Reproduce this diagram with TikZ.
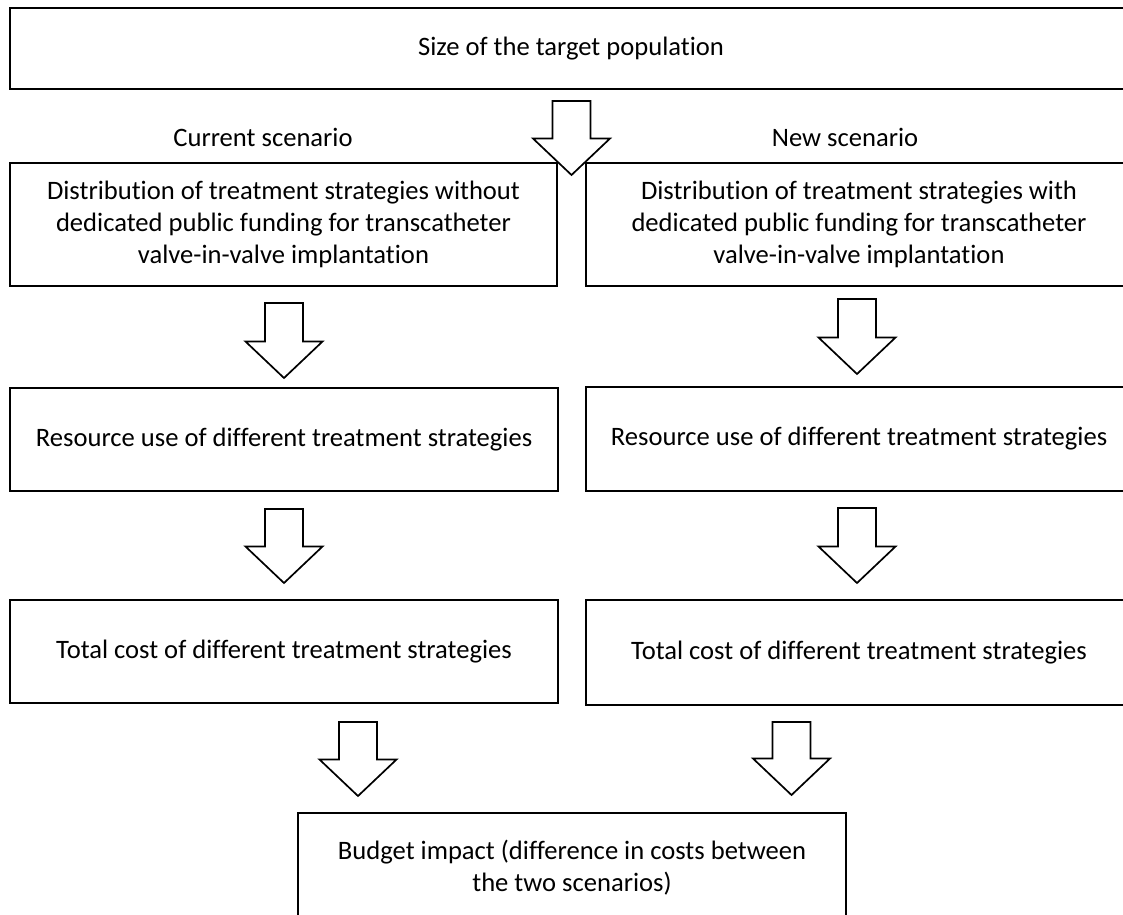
\documentclass[tikz,border=0pt]{standalone}
\usepackage{fontspec}
\setmainfont{Carlito}[Ligatures={NoCommon,NoContextual,NoRare},Contextuals={NoAlternate}]
\tikzset{
  box/.style={draw=black, line width=2pt, inner sep=0pt, align=center, fill=none,
              font=\fontsize{26.6}{32}\selectfont},
  lbl/.style={inner sep=0pt, font=\fontsize{26.6}{32}\selectfont},
  blockarrow/.style={draw=black, line width=1.7pt, line join=miter}
}
\newcommand\barrow[3]{%
  \draw[blockarrow] ({#1-19},#2) -- ({#1+19},#2) -- ({#1+19},{#3-36.5}) -- ({#1+38.5},{#3-36.5})
    -- (#1,#3) -- ({#1-38.5},{#3-36.5}) -- ({#1-19},{#3-36.5}) -- cycle;}
\begin{document}
\begin{tikzpicture}[x=1pt,y=-1pt]
\useasboundingbox (0,0) rectangle (1123,914);
\clip (0,0) rectangle (1123,914);
\node[box, minimum width=1122pt, minimum height=81pt] (top) at (571,48.5) {Size of the target population};
\node[lbl] (lhead) at (263,137) {Current scenario};
\node[lbl] (rhead) at (845,137) {New scenario};
\node[box, minimum width=547pt, minimum height=123pt] (ld) at (283.5,224.5)
  {\raisebox{-3pt}{\parbox{540pt}{\centering Distribution of treatment strategies without\\dedicated public funding for transcatheter\\valve-in-valve implantation}}};
\node[box, minimum width=546pt, minimum height=123pt] (rd) at (859,224.5)
  {\raisebox{-3pt}{\parbox{540pt}{\centering Distribution of treatment strategies with\\dedicated public funding for transcatheter\\valve-in-valve implantation}}};
\node[box, minimum width=548pt, minimum height=103pt] (lr) at (284,439.5) {Resource use of different treatment strategies};
\node[box, minimum width=546pt, minimum height=104pt] (rr) at (859,439) {Resource use of different treatment strategies};
\node[box, minimum width=548pt, minimum height=103pt] (lt) at (284,651.5) {Total cost of different treatment strategies};
\node[box, minimum width=546pt, minimum height=105pt] (rt) at (859,652.5) {Total cost of different treatment strategies};
\node[box, minimum width=548pt, minimum height=109pt] (bud) at (572,867.5) {Budget impact (difference in costs between\\the two scenarios)};
\barrow{571.5}{101}{175}
\barrow{284}{303}{378}
\barrow{857}{299}{374}
\barrow{284}{509}{583}
\barrow{857}{508}{583}
\barrow{358}{722}{796}
\barrow{791.5}{722}{795}
\end{tikzpicture}
\end{document}
